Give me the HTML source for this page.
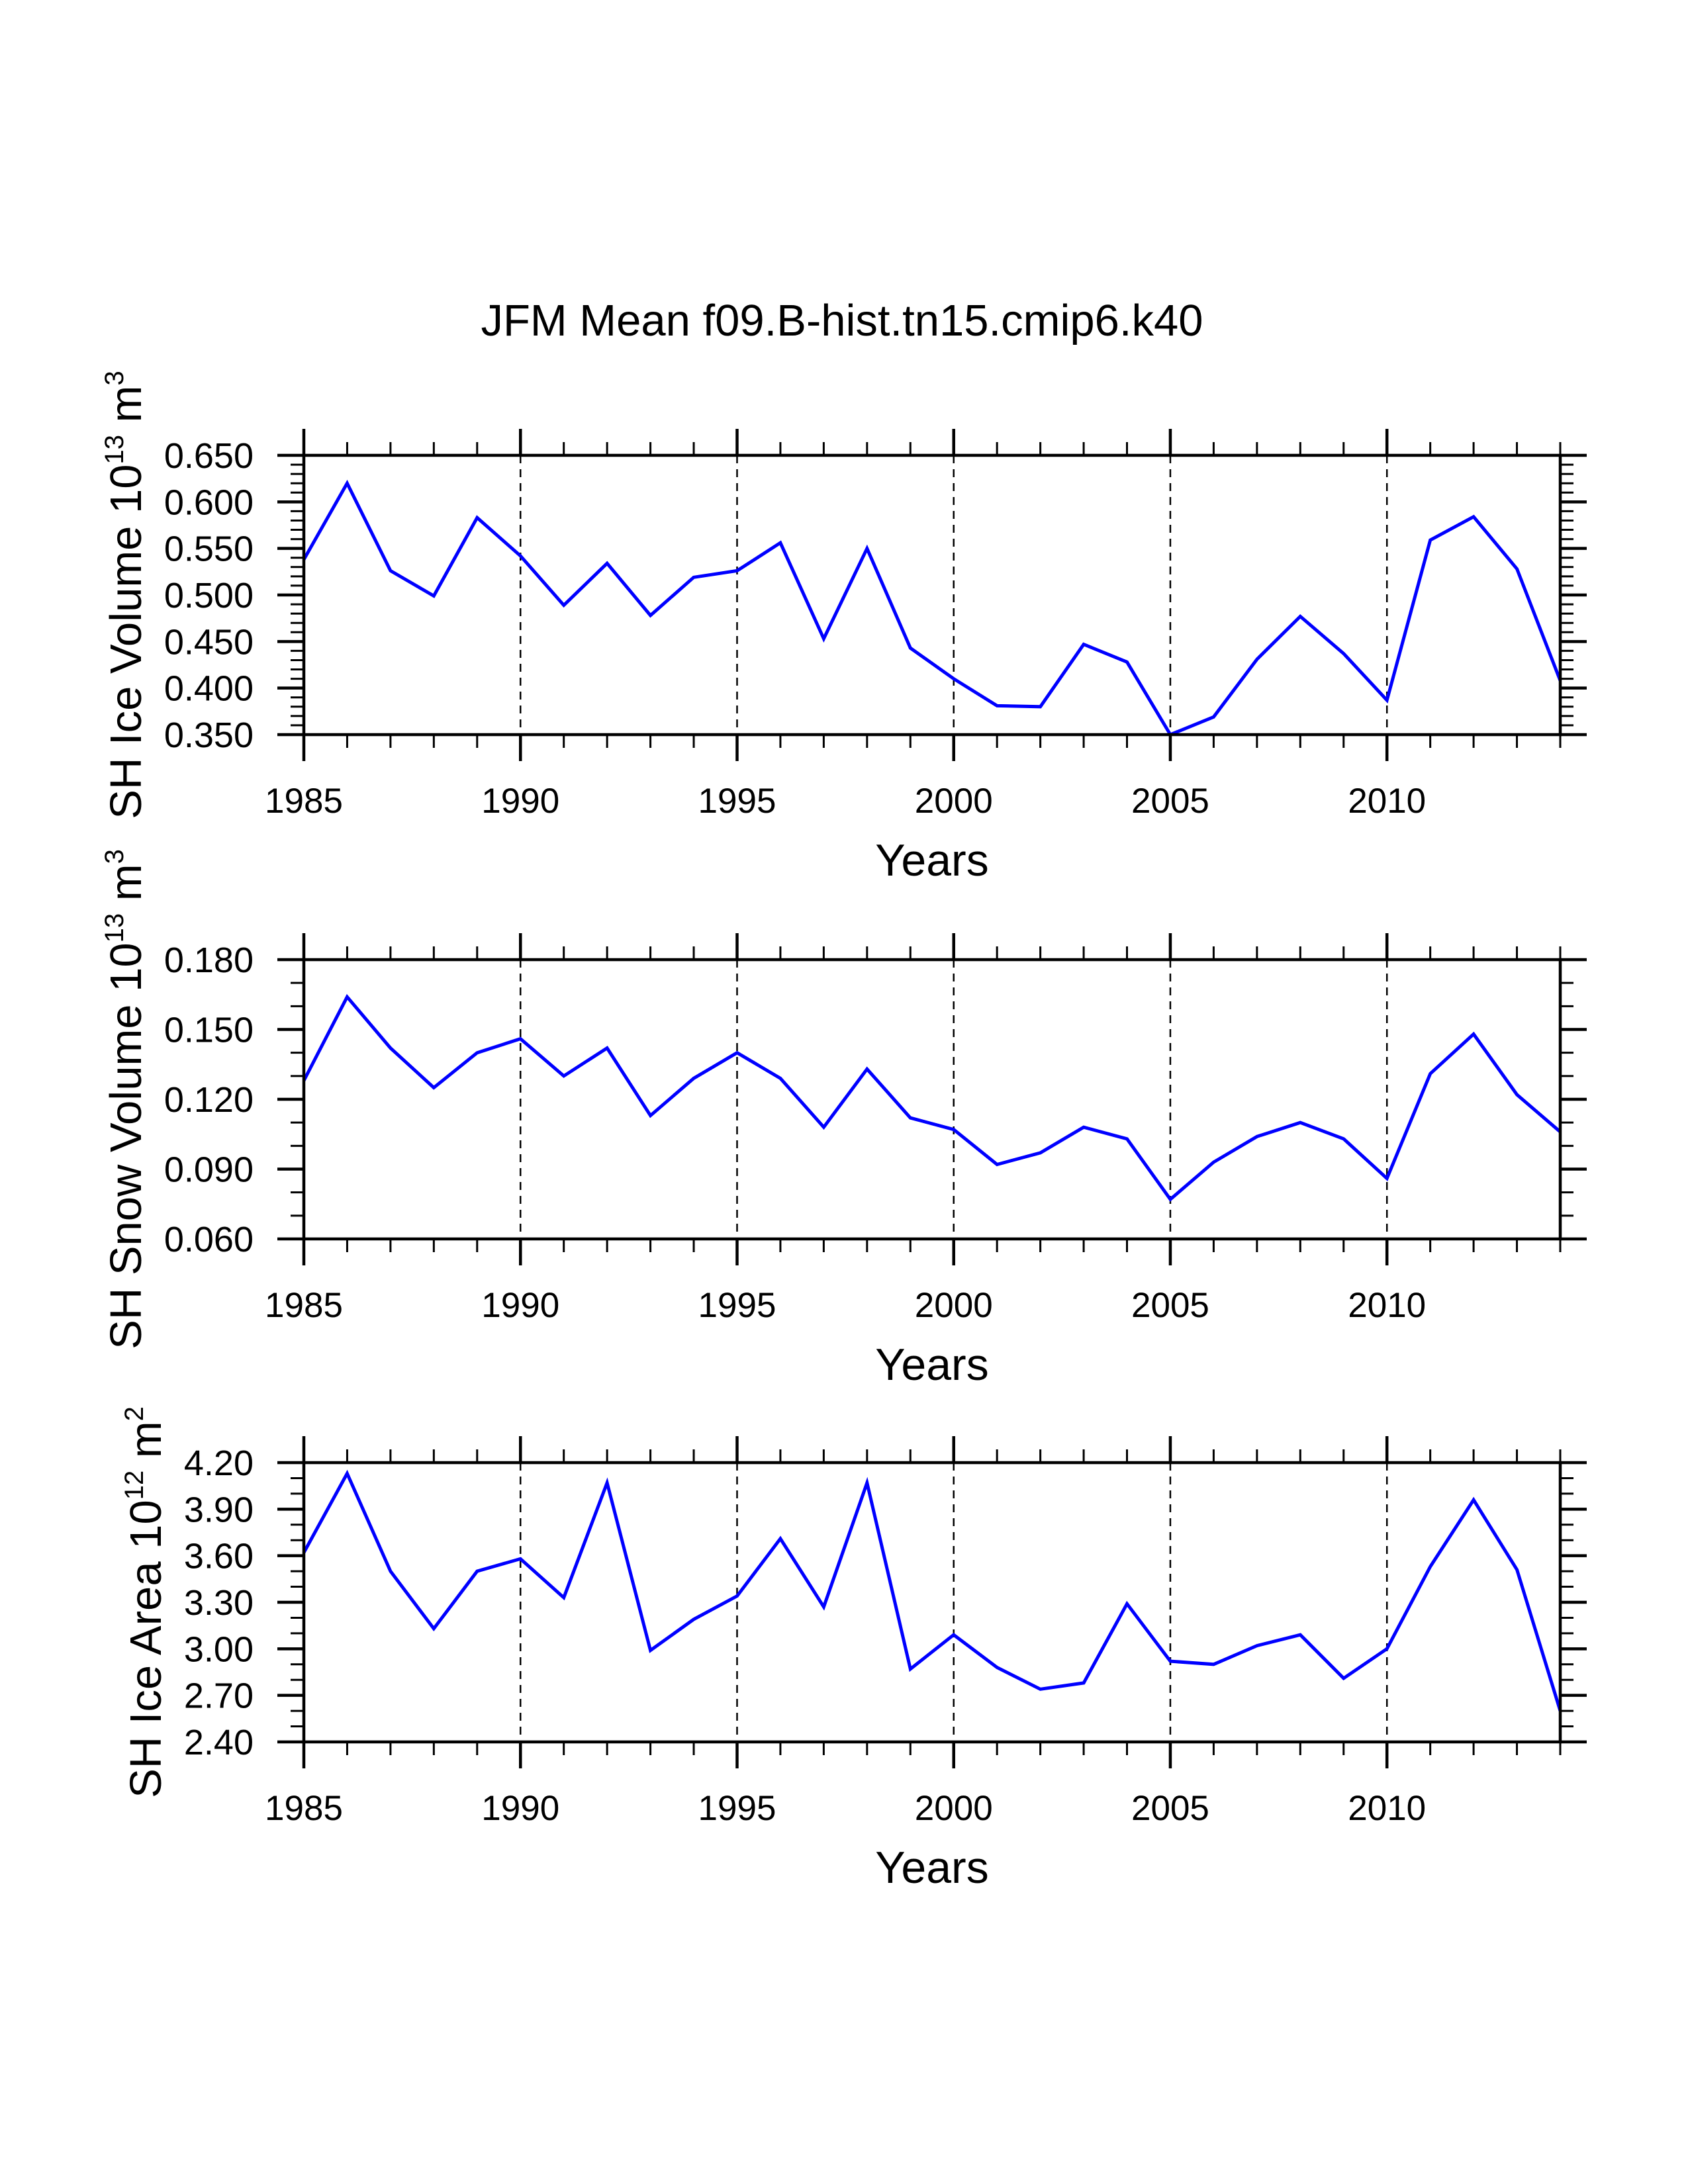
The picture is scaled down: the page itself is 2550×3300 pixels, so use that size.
<!DOCTYPE html>
<html><head><meta charset="utf-8"><style>
html,body{margin:0;padding:0;background:#fff;}
svg{display:block;font-family:"Liberation Sans",Arial,sans-serif;}
</style></head><body>
<svg id="chart" width="2550" height="3300" viewBox="0 0 2550 3300" xmlns="http://www.w3.org/2000/svg">
<rect width="2550" height="3300" fill="#fff"/>
<text x="1272" y="507" font-size="67" text-anchor="middle">JFM Mean f09.B-hist.tn15.cmip6.k40</text>
</svg>
<script>
const years = [1985,1986,1987,1988,1989,1990,1991,1992,1993,1994,1995,1996,1997,1998,1999,2000,2001,2002,2003,2004,2005,2006,2007,2008,2009,2010,2011,2012,2013,2014];
const iceVolume = [0.538,0.620,0.526,0.499,0.583,0.542,0.489,0.534,0.478,0.519,0.526,0.556,0.453,0.550,0.443,0.410,0.381,0.380,0.447,0.428,0.350,0.369,0.431,0.477,0.437,0.387,0.559,0.584,0.528,0.408];
const snowVolume = [0.128,0.164,0.142,0.125,0.140,0.146,0.130,0.142,0.113,0.129,0.140,0.129,0.108,0.133,0.112,0.107,0.092,0.097,0.108,0.103,0.077,0.093,0.104,0.110,0.103,0.086,0.131,0.148,0.122,0.106];
const iceArea = [3.62,4.13,3.50,3.13,3.50,3.58,3.33,4.07,2.99,3.19,3.34,3.71,3.27,4.07,2.87,3.09,2.88,2.74,2.78,3.29,2.92,2.90,3.02,3.09,2.81,3.00,3.53,3.96,3.51,2.60];
const xTickLabels = ["1985","1990","1995","2000","2005","2010"];
const iceVolTicks = ["0.350","0.400","0.450","0.500","0.550","0.600","0.650"];
const snowVolTicks = ["0.060","0.090","0.120","0.150","0.180"];
const iceAreaTicks = ["2.40","2.70","3.00","3.30","3.60","3.90","4.20"];

const svg = document.getElementById('chart');
const NS = 'http://www.w3.org/2000/svg';
function mk(tag, attrs, parent){const e=document.createElementNS(NS,tag);for(const k in attrs)e.setAttribute(k,attrs[k]);(parent||svg).appendChild(e);return e;}

const X0=459, X1=2357;
function xs(yr){return X0+(yr-1985)/(2014-1985)*(X1-X0);}

const panels=[
 {name:'ice-volume',top:688,bot:1110,min:0.35,max:0.65,minor:0.01,data:iceVolume,ticks:iceVolTicks,lab:'SH Ice Volume 10',sup1:'13',unit:' m',sup2:'3',labX:190},
 {name:'snow-volume',top:1450,bot:1872,min:0.06,max:0.18,minor:0.01,data:snowVolume,ticks:snowVolTicks,lab:'SH Snow Volume 10',sup1:'13',unit:' m',sup2:'3',labX:190},
 {name:'ice-area',top:2210,bot:2632,min:2.4,max:4.2,minor:0.1,data:iceArea,ticks:iceAreaTicks,lab:'SH Ice Area 10',sup1:'12',unit:' m',sup2:'2',labX:220}
];

panels.forEach(p=>{
 const g=mk('g',{});
 
 
 const ys=v=>p.bot-(v-p.min)/(p.max-p.min)*(p.bot-p.top);
 for(let yr=1990;yr<=2010;yr+=5){
  const l=mk('line',{x1:xs(yr),x2:xs(yr),y1:p.top,y2:p.bot,stroke:'#000','stroke-width':2.5,'stroke-dasharray':'12,9'},g);
  
  
 }
 const pts=p.data.map((v,i)=>xs(years[i]).toFixed(1)+','+ys(v).toFixed(1)).join(' ');
 const line=mk('polyline',{points:pts,fill:'none',stroke:'#0000ff','stroke-width':5,'stroke-linejoin':'miter'},g);
 
 
 const fr=mk('rect',{x:X0,y:p.top,width:X1-X0,height:p.bot-p.top,fill:'none',stroke:'#000','stroke-width':4.5},g);
 
 
 years.forEach(yr=>{
  const maj=(yr%5===0), L=maj?40:20, w=maj?4.5:3;
  mk('line',{x1:xs(yr),x2:xs(yr),y1:p.top,y2:p.top-L,stroke:'#000','stroke-width':w},g);
  mk('line',{x1:xs(yr),x2:xs(yr),y1:p.bot,y2:p.bot+L,stroke:'#000','stroke-width':w},g);
 });
 xTickLabels.forEach(t=>{
  const tx=mk('text',{x:xs(+t),y:p.bot+118,'font-size':53,'text-anchor':'middle'},g);
  
  
  tx.textContent=t;
 });
 const n=Math.round((p.max-p.min)/p.minor);
 const step=(p.max-p.min)/(p.ticks.length-1);
 for(let i=0;i<=n;i++){
  const v=p.min+i*p.minor;
  const rel=(v-p.min)/step;
  const maj=Math.abs(rel-Math.round(rel))<1e-6;
  const L=maj?40:20,w=maj?4.5:3,y=ys(v);
  mk('line',{x1:X0,x2:X0-L,y1:y,y2:y,stroke:'#000','stroke-width':w},g);
  mk('line',{x1:X1,x2:X1+L,y1:y,y2:y,stroke:'#000','stroke-width':w},g);
 }
 p.ticks.forEach(t=>{
  const tx=mk('text',{x:383,y:ys(+t)+19,'font-size':54,'text-anchor':'end'},g);
  
  
  tx.textContent=t;
 });
 const xt=mk('text',{x:(X0+X1)/2,y:p.bot+213,'font-size':68,'text-anchor':'middle'},g);
 
 
 xt.textContent='Years';
 const cy=(p.top+p.bot)/2;
 const yt=mk('text',{x:0,y:0,'font-size':67,'text-anchor':'middle',transform:'translate('+(p.labX+23)+','+cy+') rotate(-90)'},g);
 
 
 const s1=mk('tspan',{},yt); s1.textContent=p.lab;
 const s2=mk('tspan',{'font-size':40,dy:-27},yt); s2.textContent=p.sup1;
 const s3=mk('tspan',{dy:27},yt); s3.textContent=p.unit;
 const s4=mk('tspan',{'font-size':40,dy:-27},yt); s4.textContent=p.sup2;
});
</script>
</body></html>
